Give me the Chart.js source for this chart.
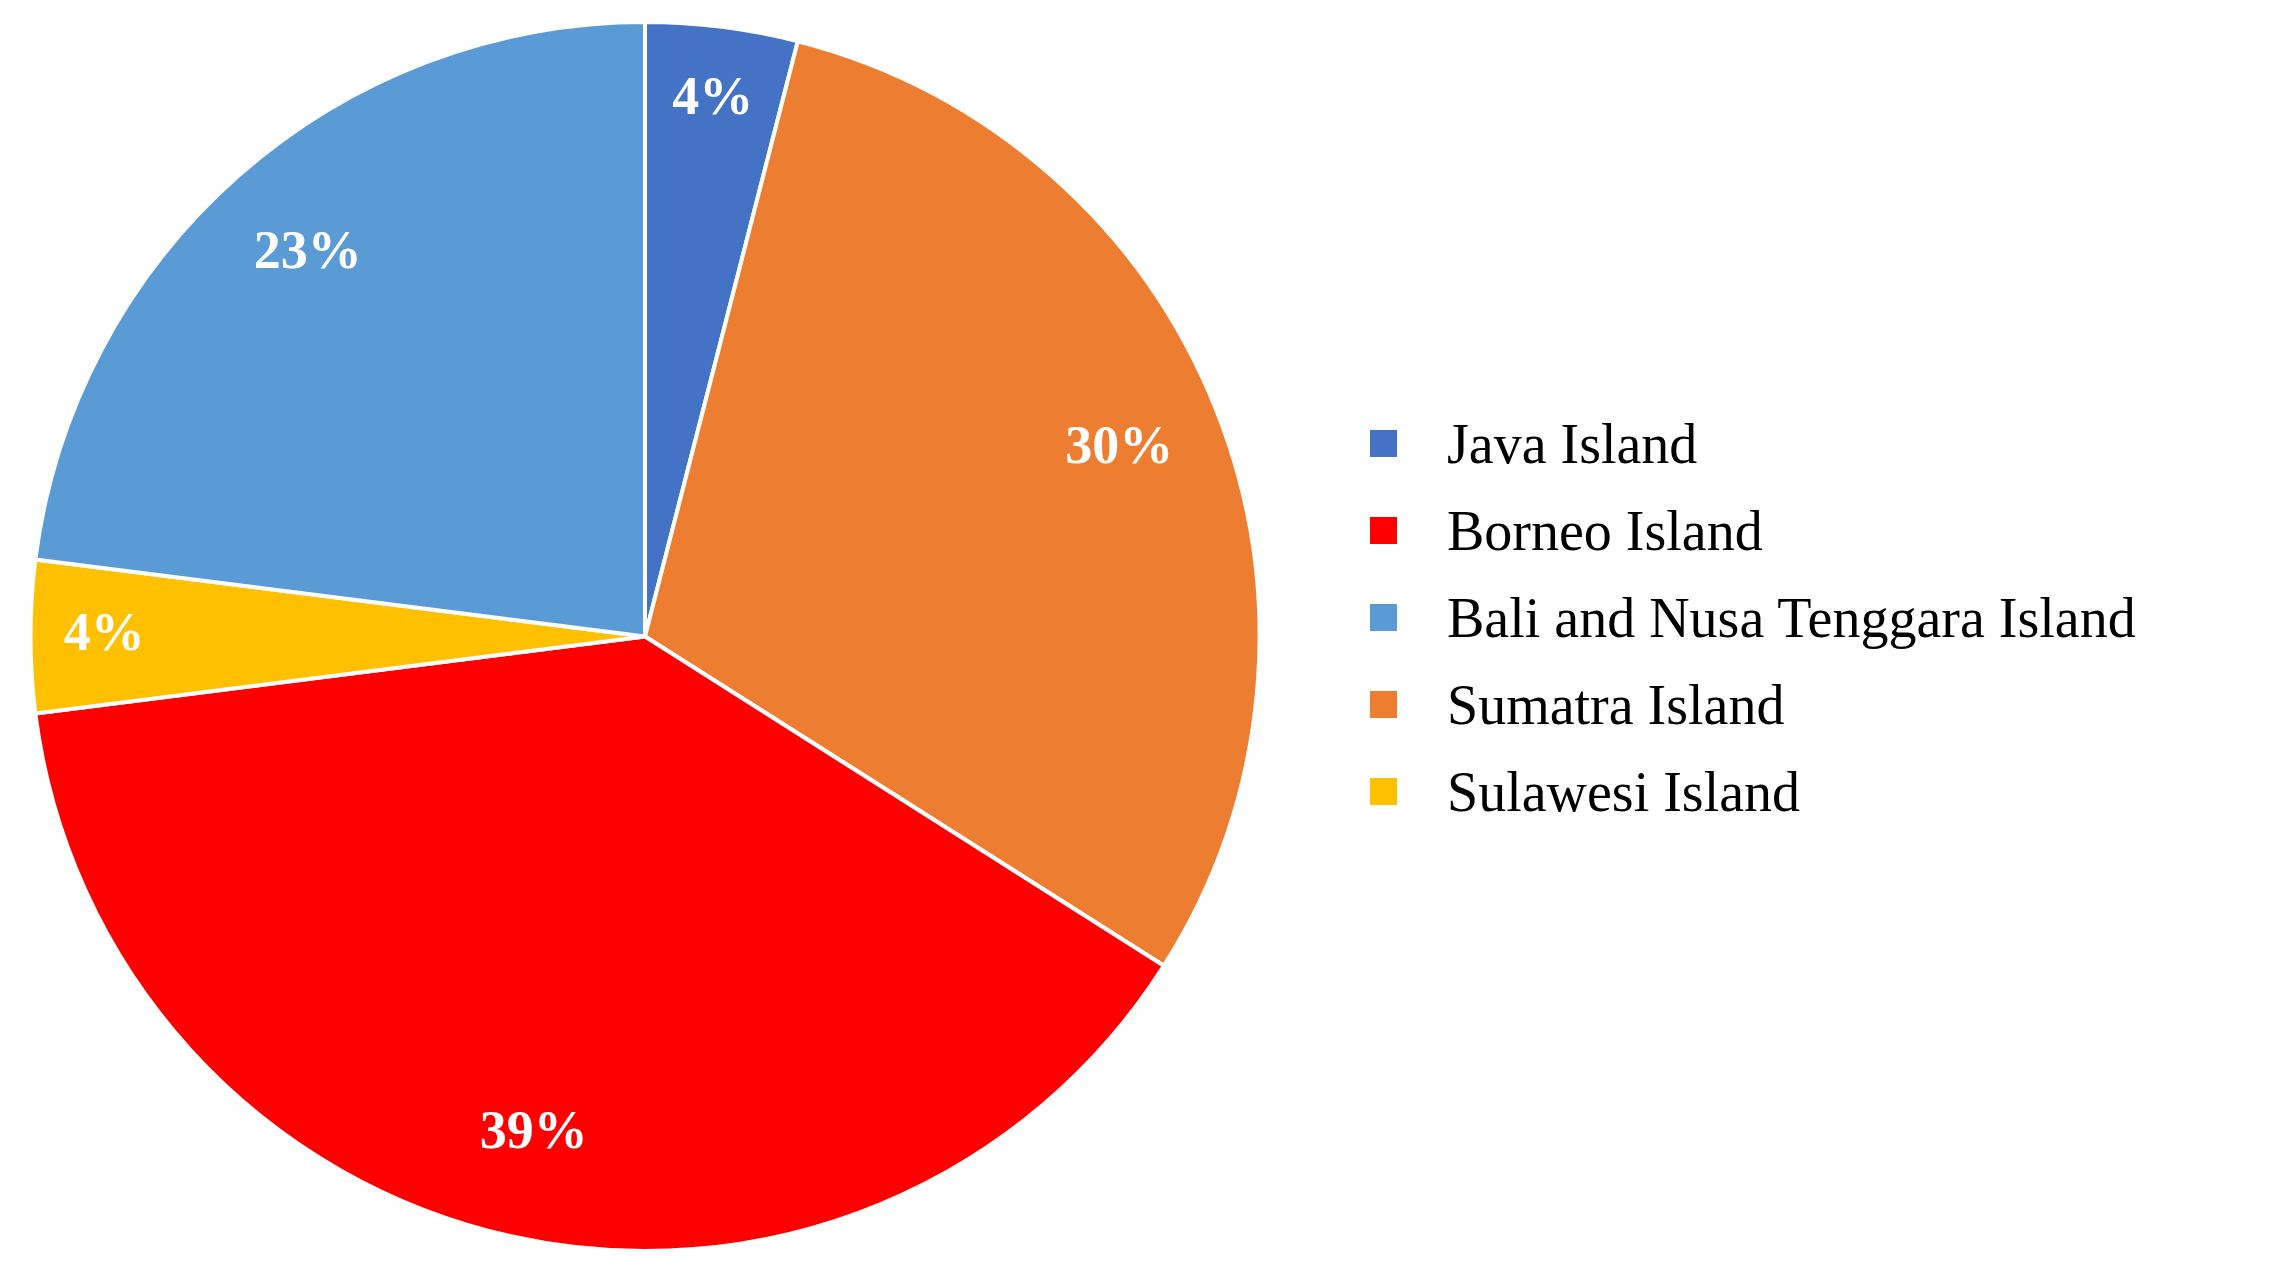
<!DOCTYPE html>
<html><head><meta charset="utf-8">
<script src="https://cdn.jsdelivr.net/npm/chart.js@4/dist/chart.umd.min.js"></script>
<style>
html,body{margin:0;padding:0;background:#fff;width:2291px;height:1277px;overflow:hidden;}
#wrap{position:absolute;left:0;top:0;width:1290px;height:1277px;}
#legend{position:absolute;left:1370px;top:400px;font-family:"Liberation Serif","DejaVu Serif",serif;font-size:56px;color:#000;}
.item{display:flex;align-items:center;height:87px;}
.sw{width:27px;height:27px;margin-right:50px;}
</style></head><body>
<div id="wrap"><canvas id="c"></canvas></div>
<div id="legend"></div>
<script>
const categories = ["Java Island","Sumatra Island","Borneo Island","Sulawesi Island","Bali and Nusa Tenggara Island"];
const values = [4,30,39,4,23];
const colors = ["#4472C4","#ED7D31","#FF0000","#FFC000","#5B9BD5"];
const legendOrder = ["Java Island","Borneo Island","Bali and Nusa Tenggara Island","Sumatra Island","Sulawesi Island"];

const labelPlugin = {
  id:'pctLabels',
  afterDatasetsDraw(chart){
    const ctx = chart.ctx;
    const meta = chart.getDatasetMeta(0);
    const total = values.reduce((a,b)=>a+b,0);
    ctx.save();
    ctx.fillStyle='#fff';
    ctx.font='bold 54px "Liberation Serif", serif';
    ctx.textAlign='center'; ctx.textBaseline='middle';
    meta.data.forEach((arc,i)=>{
      const mid=(arc.startAngle+arc.endAngle)/2;
      const r=arc.outerRadius*(values[i]<10?0.88:0.83);
      ctx.fillText(Math.round(values[i]/total*100)+'%', arc.x+Math.cos(mid)*r, arc.y+Math.sin(mid)*r);
    });
    ctx.restore();
  }
};

new Chart(document.getElementById('c'),{
  type:'pie',
  data:{labels:categories,datasets:[{data:values,backgroundColor:colors,borderColor:'#fff',borderWidth:4}]},
  options:{responsive:true,maintainAspectRatio:false,animation:false,
    layout:{padding:{top:20,bottom:24,left:20,right:20}},
    plugins:{legend:{display:false},tooltip:{enabled:false}}},
  plugins:[labelPlugin]
});

const lg=document.getElementById('legend');
legendOrder.forEach(name=>{
  const i=categories.indexOf(name);
  const d=document.createElement('div');d.className='item';
  d.innerHTML='<div class="sw" style="background:'+colors[i]+'"></div><span>'+name+'</span>';
  lg.appendChild(d);
});
</script>
</body></html>
